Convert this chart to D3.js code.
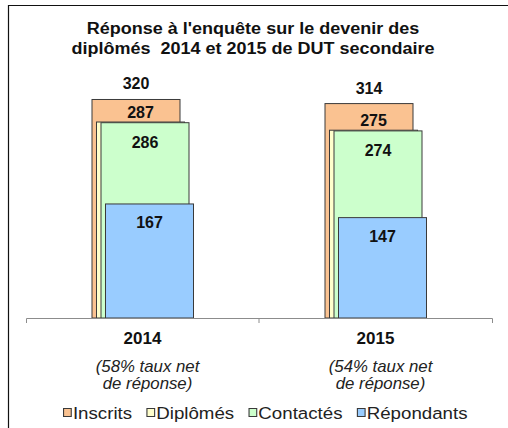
<!DOCTYPE html>
<html>
<head>
<meta charset="utf-8">
<script src="https://cdn.jsdelivr.net/npm/d3@7"></script>
<style>
  body { margin: 0; background: #fff; }
  svg { font-family: "Liberation Sans", Arial, sans-serif; }
</style>
</head>
<body>
<svg id="chart"></svg>
<script>
const years = ['2014', '2015'];
const notes = [['(58% taux net', 'de réponse)'], ['(54% taux net', 'de réponse)']];
const series = ['Inscrits', 'Diplômés', 'Contactés', 'Répondants'];
const inscrits = [320, 314];
const diplomes = [287, 275];
const contactes = [286, 274];
const repondants = [167, 147];
const colors = ['#fac291', '#ffffcc', '#ccffcc', '#99ccff'];

const values = [inscrits, diplomes, contactes, repondants];

let w = 508;
let h = 428;

let chart = d3.select('#chart')
  .attr('width', w)
  .attr('height', h);

chart.append('rect')
  .attr('width', w)
  .attr('height', h)
  .attr('fill', '#fff');

// frame (cut off on the right and bottom in the original)
chart.append('path')
  .attr('d', `M8.5,${h}V5.5H${w}`)
  .attr('fill', 'none')
  .attr('stroke', '#111')
  .attr('stroke-width', 1.2);

// title, a bit wide like the source picture
chart.append('g')
  .attr('transform', 'translate(253, 0) scale(1.06, 1)')
  .append('text')
  .attr('text-anchor', 'middle')
  .style('font-weight', 'bold')
  .style('font-size', '17px')
  .attr('fill', '#111')
  .selectAll('tspan')
  .data(["Réponse à l'enquête sur le devenir des", 'diplômés  2014 et 2015 de DUT secondaire'])
  .enter()
  .append('tspan')
  .attr('x', 0)
  .attr('y', (d, i) => 34 + i * 20)
  .style('white-space', 'pre')
  .text(d => d);

let xScale = d3.scaleBand()
  .domain(years)
  .range([26, 492]);

// overlapping bars, each one shifted a little to the right
let barW = 88;
let shift = d3.scalePoint()
  .domain(series)
  .range([-50.5, -37]);

let yScale = d3.scaleLinear()
  .domain([0, 350])
  .range([318, 79]);

// label offset from the top of each bar
let labelDy = [-10, -4, 25, 24];

series.forEach((s, si) => {
  let g = chart.append('g');
  let x0 = i => xScale(years[i]) + xScale.bandwidth() / 2 + shift(s);

  g.selectAll('rect')
    .data(values[si])
    .enter()
    .append('rect')
    .attr('x', (d, i) => x0(i))
    .attr('y', d => yScale(d))
    .attr('width', barW)
    .attr('height', d => yScale(0) - yScale(d))
    .attr('fill', colors[si])
    .attr('stroke', '#3a3a3a')
    .attr('stroke-width', 1);
});

// value labels drawn after the bars so they stay on top
series.forEach((s, si) => {
  let x0 = i => xScale(years[i]) + xScale.bandwidth() / 2 + shift(s);
  chart.append('g')
    .selectAll('text')
    .data(values[si])
    .enter()
    .append('text')
    .attr('x', (d, i) => x0(i) + barW / 2)
    .attr('y', d => yScale(d) + labelDy[si])
    .attr('text-anchor', 'middle')
    .style('font-weight', 'bold')
    .style('font-size', '16px')
    .attr('fill', '#111')
    .text(d => d);
});

// x axis
let xAxis = d3.axisBottom(xScale)
  .tickSize(0)
  .tickSizeOuter(5)
  .tickPadding(14);

let ax = chart.append('g')
  .attr('transform', `translate(0, ${yScale(0)})`)
  .call(xAxis);

ax.select('.domain').attr('stroke', '#8c8c8c');
ax.selectAll('.tick text')
  .style('font-family', '"Liberation Sans", Arial, sans-serif')
  .style('font-weight', 'bold')
  .style('font-size', '17px')
  .attr('fill', '#111');

// tick between the categories
ax.selectAll('.sep')
  .data(years.slice(1))
  .enter()
  .append('line')
  .attr('x1', d => xScale(d))
  .attr('x2', d => xScale(d))
  .attr('y1', 0)
  .attr('y2', 5)
  .attr('stroke', '#8c8c8c');

// response rate notes
years.forEach((y, i) => {
  chart.append('g')
    .attr('transform', `translate(${xScale(y) + xScale.bandwidth() / 2 + 5}, 0) scale(1.05, 1)`)
    .selectAll('text')
    .data(notes[i])
    .enter()
    .append('text')
    .attr('x', 0)
    .attr('y', (d, j) => 372 + j * 17)
    .attr('text-anchor', 'middle')
    .style('font-style', 'italic')
    .style('font-size', '16px')
    .attr('fill', '#222')
    .text(d => d);
});

// legend
let legend = chart.append('g')
  .attr('transform', 'translate(63, 419) scale(1.1, 1)');

let lx = 0;
series.forEach((s, i) => {
  let item = legend.append('g').attr('transform', `translate(${lx}, 0)`);
  item.append('rect')
    .attr('x', 0.5)
    .attr('y', -10.5)
    .attr('width', 7)
    .attr('height', 8)
    .attr('fill', colors[i])
    .attr('stroke', '#3a3a3a');
  let t = item.append('text')
    .attr('x', 9)
    .attr('y', 0)
    .style('font-size', '17px')
    .attr('fill', '#222')
    .text(s);
  lx += 9 + t.node().getComputedTextLength() + 13;
});
</script>
</body>
</html>
